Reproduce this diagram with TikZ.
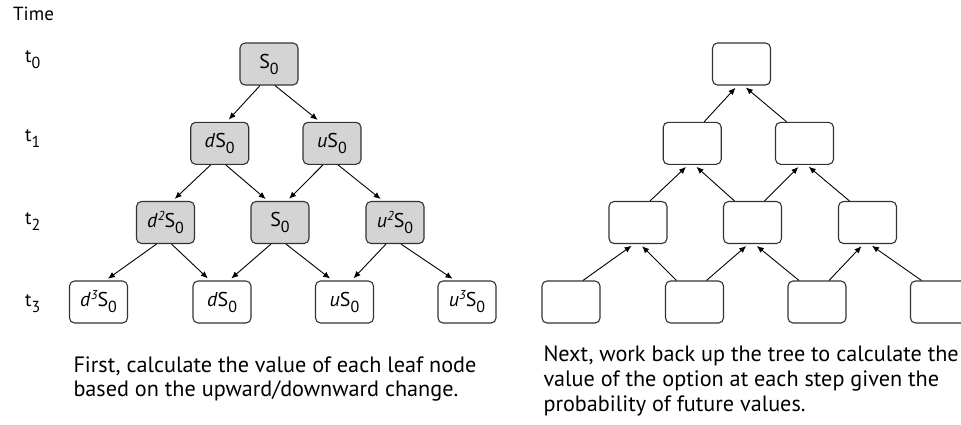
\documentclass[tikz,border=0pt]{standalone}
\usepackage{fontspec}
\setmainfont{PT Sans}
\usetikzlibrary{arrows.meta}

% lowered subscript and raised italic exponent
\newcommand\lowsub[1]{\raisebox{-6pt}{\fontsize{16}{16}\selectfont #1}}
\newcommand\hisup[1]{\raisebox{7pt}{\fontsize{13}{13}\selectfont\itshape #1}}

\begin{document}
\begin{tikzpicture}[x=1pt,y=-1pt,
  nodebox/.style={draw=black!80, line width=1.1pt, rounded corners=5pt,
    minimum width=58pt, minimum height=42pt, inner sep=0pt, fill=white,
    font=\fontsize{20}{20}\selectfont},
  filled/.style={nodebox, fill=black!17},
  arrowline/.style={-{Latex[length=7pt,width=6pt]}, line width=0.9pt, shorten >=3pt},
  label/.style={anchor=base west, inner sep=0pt, font=\fontsize{19}{19}\selectfont},
  caption/.style={anchor=base west, inner sep=0pt, font=\fontsize{22.2}{22.2}\selectfont}]
\useasboundingbox (0,0) rectangle (961,424);

% row heights and column positions
\def\ra{64}\def\rb{143.3}\def\rc{222.5}\def\rd{302}
\def\sh{472.5}

% time axis labels
\node[label] (time) at (13,20) {Time};
\node[label] (t0) at (25,62) {t\lowsub{0}};
\node[label] (t1) at (25,141) {t\lowsub{1}};
\node[label] (t2) at (25,224) {t\lowsub{2}};
\node[label] (t3) at (25,306) {t\lowsub{3}};

% forward tree of prices
\node[filled] (a0) at (269,\ra) {S\lowsub{0}};
\node[filled] (b0) at (219.7,\rb) {\textit{d}S\lowsub{0}};
\node[filled] (b1) at (332,\rb) {\textit{u}S\lowsub{0}};
\node[filled] (c0) at (165.5,\rc) {\textit{d}\hisup{2}S\lowsub{0}};
\node[filled] (c1) at (280,\rc) {S\lowsub{0}};
\node[filled] (c2) at (395,\rc) {\textit{u}\hisup{2}S\lowsub{0}};
\node[nodebox] (d0) at (98.5,\rd) {\textit{d}\hisup{3}S\lowsub{0}};
\node[nodebox] (d1) at (222,\rd) {\textit{d}S\lowsub{0}};
\node[nodebox] (d2) at (344.5,\rd) {\textit{u}S\lowsub{0}};
\node[nodebox] (d3) at (467,\rd) {\textit{u}\hisup{3}S\lowsub{0}};

\foreach \p/\l/\r in {a0/b0/b1, b0/c0/c1, b1/c1/c2, c0/d0/d1, c1/d1/d2, c2/d2/d3}{
  \draw[arrowline] ([xshift=-9pt]\p.south) -- ([xshift=7pt]\l.north);
  \draw[arrowline] ([xshift=6pt]\p.south) -- ([xshift=-12pt]\r.north);
}

% backward tree of option values
\node[nodebox] (ra0) at (269+\sh,\ra) {};
\node[nodebox] (rb0) at (219.7+\sh,\rb) {};
\node[nodebox] (rb1) at (332+\sh,\rb) {};
\node[nodebox] (rc0) at (165.5+\sh,\rc) {};
\node[nodebox] (rc1) at (280+\sh,\rc) {};
\node[nodebox] (rc2) at (395+\sh,\rc) {};
\node[nodebox] (rd0) at (98.5+\sh,\rd) {};
\node[nodebox] (rd1) at (222+\sh,\rd) {};
\node[nodebox] (rd2) at (344.5+\sh,\rd) {};
\node[nodebox] (rd3) at (467+\sh,\rd) {};

\foreach \p/\l/\r in {ra0/rb0/rb1, rb0/rc0/rc1, rb1/rc1/rc2, rc0/rd0/rd1, rc1/rd1/rd2, rc2/rd2/rd3}{
  \draw[arrowline] ([xshift=12pt]\l.north) -- ([xshift=-4pt]\p.south);
  \draw[arrowline] ([xshift=-18pt]\r.north) -- ([xshift=2pt]\p.south);
}

% captions
\node[caption] (ca1) at (73.3,372.7) {First, calculate the value of each leaf node};
\node[caption] (ca2) at (73.3,396.7) {based on the upward/downward change.};
\node[caption] (cb1) at (543.3,361.7) {Next, work back up the tree to calculate the};
\node[caption] (cb2) at (543.3,386.7) {value of the option at each step given the};
\node[caption] (cb3) at (543.3,411.7) {probability of future values.};
\end{tikzpicture}
\end{document}
